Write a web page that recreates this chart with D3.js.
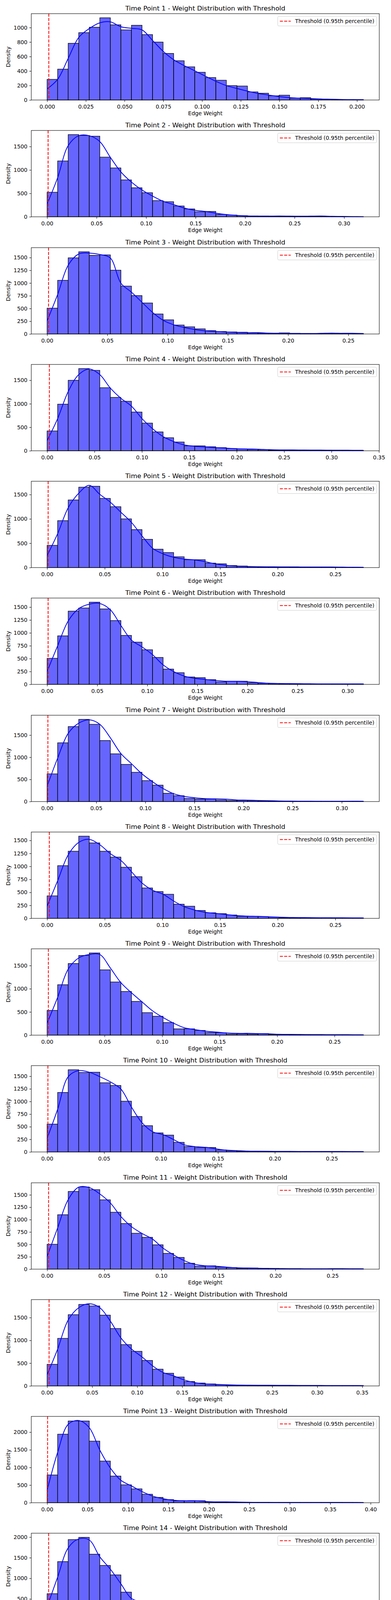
<!DOCTYPE html>
<html>
<head>
<meta charset="utf-8">
<script src="https://cdn.jsdelivr.net/npm/d3@7"></script>
<style>
  html, body { margin: 0; padding: 0; background: #fff; }
  #chart { position: relative; width: 1000px; height: 6000px; }
  #chart svg { position: absolute; left: 0; overflow: visible; }
  svg text { font-family: "DejaVu Sans", sans-serif; fill: #000; }
</style>
</head>
<body>
<div id="chart"></div>
<script>
// one entry per subplot (time points 1..19, then the band summary)
const titles = [
  "Time Point 1 - Weight Distribution with Threshold",
  "Time Point 2 - Weight Distribution with Threshold",
  "Time Point 3 - Weight Distribution with Threshold",
  "Time Point 4 - Weight Distribution with Threshold",
  "Time Point 5 - Weight Distribution with Threshold",
  "Time Point 6 - Weight Distribution with Threshold",
  "Time Point 7 - Weight Distribution with Threshold",
  "Time Point 8 - Weight Distribution with Threshold",
  "Time Point 9 - Weight Distribution with Threshold",
  "Time Point 10 - Weight Distribution with Threshold",
  "Time Point 11 - Weight Distribution with Threshold",
  "Time Point 12 - Weight Distribution with Threshold",
  "Time Point 13 - Weight Distribution with Threshold",
  "Time Point 14 - Weight Distribution with Threshold",
  "Time Point 15 - Weight Distribution with Threshold",
  "Time Point 16 - Weight Distribution with Threshold",
  "Time Point 17 - Weight Distribution with Threshold",
  "Time Point 18 - Weight Distribution with Threshold",
  "Time Point 19 - Weight Distribution with Threshold",
  "Edge Weight Distribution with Threshold at 0.95th Percentile for full_gamma Band for method plv"
];

// largest edge weight (end of last bin) per subplot
const xMax = [0.2042, 0.3196, 0.2626, 0.3337, 0.2744, 0.3159, 0.3221, 0.2744, 0.2751, 0.2778,
              0.2771, 0.3514, 0.3911, 0.2908, 0.2381, 0.2926, 0.2756, 0.3375, 0.3739, 0.3313];

// threshold (0.95th percentile) per subplot
const thresholds = [0.0011, 0.0010, 0.0012, 0.0024, 0.0009, 0.0010, 0.0008, 0.0019, 0.0011, 0.0007,
                    0.0013, 0.0022, 0.0006, 0.0014, 0.0011, 0.0018, 0.0022, 0.0021, 0.0018, 0.0018];

// 30 histogram bins per subplot
const binCounts = [
  [285,426,783,930,1005,1135,1038,968,1032,903,800,643,542,458,383,310,273,199,193,112,94,58,67,25,32,14,9,5,5,5],
  [524,1192,1755,1736,1721,1274,1043,788,620,514,346,322,231,168,106,115,53,38,24,19,15,12,10,8,10,8,6,5,3,2],
  [507,1054,1495,1614,1544,1553,1253,940,754,609,393,278,176,141,101,66,49,40,35,22,18,18,22,13,9,9,9,9,13,9],
  [422,992,1500,1749,1711,1342,1136,1054,824,589,402,278,187,105,105,86,67,48,38,29,24,14,19,17,14,14,12,10,10,8],
  [457,964,1389,1652,1671,1421,1251,1001,780,581,378,309,222,162,162,92,78,42,32,18,14,13,12,11,10,10,11,9,6,5],
  [506,942,1422,1483,1596,1465,1239,951,820,672,523,297,227,144,131,92,48,61,61,31,22,17,13,12,11,10,9,9,10,9],
  [625,1327,1693,1856,1744,1378,1078,839,661,473,371,188,132,71,56,56,36,25,25,20,15,12,10,8,8,7,6,6,7,6],
  [433,1014,1292,1582,1452,1292,1179,984,802,585,516,464,273,234,152,108,91,65,39,39,35,26,13,13,12,10,11,10,9,8],
  [534,1087,1544,1718,1772,1408,1146,942,728,485,408,272,136,136,102,58,53,24,29,24,34,15,14,12,12,10,10,9,8,7],
  [552,1179,1629,1575,1580,1371,1317,1006,703,521,378,334,191,107,85,89,40,22,13,12,11,10,9,8,8,8,9,8,7,6],
  [502,1099,1569,1660,1605,1400,1149,921,725,643,492,319,237,119,59,68,41,32,18,23,18,14,5,9,8,7,8,9,8,6],
  [475,1044,1564,1789,1755,1554,1260,907,760,559,368,279,196,98,64,44,29,20,15,12,11,10,10,9,8,8,8,8,7,6],
  [787,1943,2317,2317,1746,1181,756,508,394,241,152,89,51,51,57,25,19,19,13,12,10,9,8,7,7,8,8,9,7,5],
  [627,1406,1940,1995,1586,1313,1084,665,441,441,354,251,202,125,87,71,49,44,38,33,22,11,10,9,8,8,8,7,9,7],
  [354,543,720,985,1051,1064,1156,1033,913,815,698,669,537,404,376,341,268,205,171,123,133,63,54,41,22,13,12,11,10,8],
  [464,964,1491,1629,1607,1366,1272,929,853,536,464,344,263,152,80,58,31,27,27,22,45,22,18,17,15,12,10,8,7,6],
  [379,723,1135,1287,1276,1319,1283,1149,911,810,571,452,452,275,246,130,123,80,25,22,18,18,14,7,7,6,5,5,4,4],
  [525,1343,1848,1773,1626,1414,1111,944,697,515,348,177,121,96,56,35,25,20,15,12,10,9,8,8,7,7,7,6,6,7],
  [623,1443,1891,1973,1820,1546,1093,814,579,366,180,104,87,49,27,27,22,22,16,12,10,9,8,8,7,7,6,6,6,5],
  [560,1307,1806,1868,1651,1396,1138,907,640,471,356,196,151,80,44,44,27,27,30,30,15,12,11,10,10,10,9,9,8,7]
];

// kde curve read at the 31 bin edges
const kdeValues = [
  [153,285,574,863,986,1065,1079,1011,989,968,823,673,556,475,403,330,258,199,159,123,90,69,47,32,25,20,14,11,7,5,4],
  [270,836,1519,1731,1731,1606,1269,957,740,572,442,332,260,188,140,115,77,48,29,19,14,14,16,14,12,14,16,10,8,5,3],
  [256,776,1350,1570,1588,1561,1491,997,820,622,423,269,181,128,88,62,49,40,31,26,26,18,13,9,9,9,13,18,13,13,9],
  [216,685,1260,1620,1739,1620,1332,1116,949,685,470,302,196,125,96,81,67,57,43,38,34,24,19,19,17,15,14,13,12,11,10],
  [245,697,1228,1527,1689,1504,1343,1135,928,651,397,281,212,175,157,120,74,46,28,23,18,16,15,14,13,12,12,12,10,8,6],
  [249,750,1230,1470,1557,1570,1448,1143,859,728,576,379,249,161,118,96,74,61,61,52,35,22,17,15,13,11,10,9,9,10,9],
  [346,981,1540,1769,1845,1744,1439,1083,854,625,447,295,178,117,86,66,61,56,36,31,25,20,14,11,9,8,7,6,7,8,7],
  [234,724,1222,1461,1521,1417,1244,1114,897,680,542,464,334,225,160,117,95,74,52,43,39,30,22,17,15,13,12,12,11,10,9],
  [257,816,1422,1665,1738,1738,1447,1131,913,718,524,379,257,160,121,87,68,49,39,39,34,29,19,16,14,13,12,11,10,9,8],
  [267,846,1491,1611,1580,1491,1389,1246,890,579,401,343,245,142,107,93,62,36,27,18,15,13,12,11,10,9,10,10,9,8,7],
  [255,834,1404,1655,1646,1518,1336,1062,857,720,606,424,287,173,96,68,59,41,27,23,18,14,12,10,9,8,8,9,9,8,7],
  [245,809,1446,1716,1804,1716,1422,1054,809,637,441,294,221,132,74,44,34,25,20,17,15,14,13,12,11,10,10,9,9,8,7],
  [349,1429,2222,2330,2127,1492,984,635,476,317,190,114,70,57,57,38,25,25,19,13,12,10,9,8,7,8,9,8,9,8,6],
  [311,1030,1738,1956,1929,1520,1221,866,512,431,387,311,240,169,114,82,71,54,44,33,22,16,11,10,9,8,8,8,9,10,8],
  [196,442,663,884,995,1048,1096,1105,1026,900,789,701,625,521,436,379,325,265,208,158,111,79,54,38,25,16,13,12,11,10,9],
  [241,723,1348,1594,1638,1482,1326,1125,879,679,545,433,330,223,121,76,54,40,31,27,31,31,27,22,19,16,13,10,8,7,6],
  [206,452,922,1211,1265,1283,1297,1254,1120,940,813,578,459,398,289,192,134,108,61,33,25,25,22,14,10,8,7,6,5,4,4],
  [258,788,1596,1808,1758,1545,1268,1015,813,611,434,258,172,121,81,56,35,25,20,16,13,11,10,9,9,8,8,8,7,7,7],
  [301,913,1678,1951,1989,1869,1486,967,776,448,257,137,98,77,44,33,27,27,22,17,13,11,10,9,8,8,7,7,7,6,5],
  [270,910,1651,1859,1859,1637,1355,1014,673,465,302,184,110,74,56,44,36,33,33,36,30,21,18,16,15,14,13,13,12,11,10]
];

const yTicks = [
  [0,200,400,600,800,1000],
  [0,500,1000,1500],
  [0,250,500,750,1000,1250,1500],
  [0,500,1000,1500],
  [0,500,1000,1500],
  [0,250,500,750,1000,1250,1500],
  [0,500,1000,1500],
  [0,250,500,750,1000,1250,1500],
  [0,500,1000,1500],
  [0,250,500,750,1000,1250,1500],
  [0,250,500,750,1000,1250,1500],
  [0,500,1000,1500],
  [0,500,1000,1500,2000],
  [0,500,1000,1500,2000],
  [0,200,400,600,800,1000,1200],
  [0,250,500,750,1000,1250,1500],
  [0,200,400,600,800,1000,1200],
  [0,500,1000,1500],
  [0,500,1000,1500,2000],
  [0,500,1000,1500]
];

const xTicks = [
  [0,0.025,0.05,0.075,0.1,0.125,0.15,0.175,0.2],
  [0,0.05,0.1,0.15,0.2,0.25,0.3],
  [0,0.05,0.1,0.15,0.2,0.25],
  [0,0.05,0.1,0.15,0.2,0.25,0.3,0.35],
  [0,0.05,0.1,0.15,0.2,0.25],
  [0,0.05,0.1,0.15,0.2,0.25,0.3],
  [0,0.05,0.1,0.15,0.2,0.25,0.3],
  [0,0.05,0.1,0.15,0.2,0.25],
  [0,0.05,0.1,0.15,0.2,0.25],
  [0,0.05,0.1,0.15,0.2,0.25],
  [0,0.05,0.1,0.15,0.2,0.25],
  [0,0.05,0.1,0.15,0.2,0.25,0.3,0.35],
  [0,0.05,0.1,0.15,0.2,0.25,0.3,0.35,0.4],
  [0,0.05,0.1,0.15,0.2,0.25,0.3],
  [0,0.05,0.1,0.15,0.2],
  [0,0.05,0.1,0.15,0.2,0.25,0.3],
  [0,0.05,0.1,0.15,0.2,0.25],
  [0,0.05,0.1,0.15,0.2,0.25,0.3,0.35],
  [0,0.05,0.1,0.15,0.2,0.25,0.3,0.35],
  [0,0.05,0.1,0.15,0.2,0.25,0.3]
];

const legendLabel = "Threshold (0.95th percentile)";

// layout
const w = 1000;
const left = 80;
const right = 970;
const axTop = 35;
const rowStep = 299.26;
const rowH = 300;
const plotH = 221;
const tickFont = 13.9;

const chart = d3.select("#chart");

binCounts.forEach((counts, i) => {
  // one svg per subplot, stacked down the page
  const svg = chart.append("svg")
    .attr("width", w)
    .attr("height", rowH)
    .style("top", `${i * rowStep}px`);

  const g = svg.append("g").attr("transform", `translate(0, ${axTop})`);

  const xmax = xMax[i];
  const binW = xmax / counts.length;
  const kde = kdeValues[i];

  const xScale = d3.scaleLinear()
    .domain([-0.05 * xmax, 1.05 * xmax])
    .range([left, right]);

  const yScale = d3.scaleLinear()
    .domain([0, Math.max(d3.max(counts), d3.max(kde)) * 1.05])
    .range([plotH, 0]);

  // bars
  g.selectAll("rect.bar")
    .data(counts)
    .enter()
    .append("rect")
    .attr("class", "bar")
    .attr("x", (d, j) => xScale(j * binW))
    .attr("y", d => yScale(d))
    .attr("width", (d, j) => xScale((j + 1) * binW) - xScale(j * binW))
    .attr("height", d => plotH - yScale(d))
    .attr("fill", "rgba(0,0,255,0.6)")
    .attr("stroke", "#000")
    .attr("stroke-width", 1.3);

  // kde line
  const line = d3.line()
    .x((d, j) => xScale(j * binW))
    .y(d => yScale(d))
    .curve(d3.curveCatmullRom);

  g.append("path")
    .datum(kde)
    .attr("d", line)
    .attr("fill", "none")
    .attr("stroke", "#0000ff")
    .attr("stroke-width", 2);

  // threshold line
  g.append("line")
    .attr("x1", xScale(thresholds[i]))
    .attr("x2", xScale(thresholds[i]))
    .attr("y1", 0)
    .attr("y2", plotH)
    .attr("stroke", "#ff0000")
    .attr("stroke-width", 2)
    .attr("stroke-dasharray", "7.7,3.3");

  // frame
  g.append("rect")
    .attr("x", left)
    .attr("y", 0)
    .attr("width", right - left)
    .attr("height", plotH)
    .attr("fill", "none")
    .attr("stroke", "#000")
    .attr("stroke-width", 1.1);

  // axes
  const step = xTicks[i][1] - xTicks[i][0];
  const xAxis = d3.axisBottom(xScale)
    .tickValues(xTicks[i])
    .tickFormat(d3.format(step < 0.05 ? ".3f" : ".2f"))
    .tickSizeOuter(0)
    .tickSize(4.9)
    .tickPadding(7);

  const yAxis = d3.axisLeft(yScale)
    .tickValues(yTicks[i])
    .tickFormat(d3.format("d"))
    .tickSizeOuter(0)
    .tickSize(4.9)
    .tickPadding(4.9);

  const gx = g.append("g")
    .attr("transform", `translate(0, ${plotH})`)
    .call(xAxis);

  const gy = g.append("g")
    .attr("transform", `translate(${left}, 0)`)
    .call(yAxis);

  [gx, gy].forEach(a => {
    a.select(".domain").remove();
    a.selectAll(".tick line").attr("stroke", "#000").attr("stroke-width", 1.1);
    a.selectAll(".tick text")
      .attr("font-family", "DejaVu Sans")
      .attr("font-size", tickFont)
      .attr("fill", "#000");
  });

  // title and axis labels
  g.append("text")
    .attr("x", (left + right) / 2)
    .attr("y", -8.3)
    .attr("text-anchor", "middle")
    .attr("font-size", 16.7)
    .text(titles[i]);

  g.append("text")
    .attr("x", (left + right) / 2)
    .attr("y", plotH + 38.8)
    .attr("text-anchor", "middle")
    .attr("font-size", tickFont)
    .text("Edge Weight");

  g.append("text")
    .attr("transform", `translate(26, ${plotH / 2}) rotate(-90)`)
    .attr("text-anchor", "middle")
    .attr("font-size", tickFont)
    .text("Density");

  // legend
  const lg = g.append("g");
  const box = lg.append("rect");
  const label = lg.append("text")
    .attr("font-size", tickFont)
    .text(legendLabel);
  const textW = label.node().getComputedTextLength();
  const pad = 5.56;
  const boxW = pad + 27.8 + 11.1 + textW + pad;
  const boxH = 24.5;
  const bx = right - 6.95 - boxW;
  const by = 6.95;
  box.attr("x", bx)
    .attr("y", by)
    .attr("width", boxW)
    .attr("height", boxH)
    .attr("rx", 2.8)
    .attr("fill", "rgba(255,255,255,0.8)")
    .attr("stroke", "#cccccc")
    .attr("stroke-width", 1);
  lg.append("line")
    .attr("x1", bx + pad)
    .attr("x2", bx + pad + 27.8)
    .attr("y1", by + boxH / 2)
    .attr("y2", by + boxH / 2)
    .attr("stroke", "#ff0000")
    .attr("stroke-width", 2)
    .attr("stroke-dasharray", "7.7,3.3");
  label.attr("x", bx + pad + 27.8 + 11.1)
    .attr("y", by + boxH / 2 + 5);
});
</script>
</body>
</html>
